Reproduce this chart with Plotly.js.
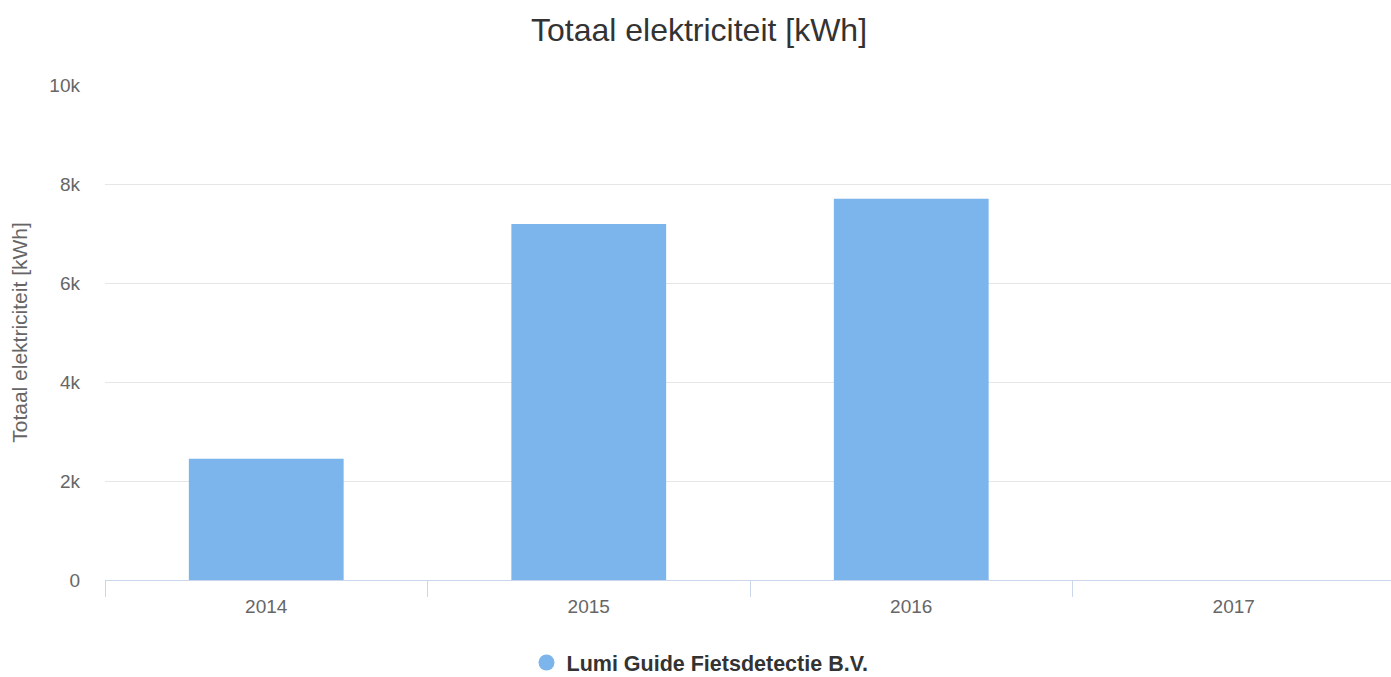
<!DOCTYPE html>
<html>
<head>
<meta charset="utf-8">
<script src="https://cdn.plot.ly/plotly-3.0.1.min.js"></script>
<style>html,body{margin:0;padding:0;background:#fff;overflow:hidden}#wrap{width:1391px;height:677px;overflow:hidden}#chart{width:1395px;height:677px}</style>
</head>
<body>
<div id="wrap"><div id="chart"></div></div>
<script>
const categories = ['2014', '2015', '2016', '2017'];
const seriesName = 'Lumi Guide Fietsdetectie B.V.';
const values = [2450, 7190, 7700, 0];
const yTickValues = [0, 2000, 4000, 6000, 8000, 10000];
const yTickLabels = ['0', '2k', '4k', '6k', '8k', '10k'];
const titleText = 'Totaal elektriciteit [kWh]';
const yTitleText = 'Totaal elektriciteit [kWh]';

const FONT = '"Liberation Sans", Arial, Helvetica, sans-serif';
const barColor = '#7cb5ec';

const traces = [
  {
    type: 'bar',
    x: categories,
    y: values,
    name: seriesName,
    marker: {color: barColor, line: {width: 0}},
    showlegend: false,
    hoverinfo: 'skip'
  },
  {
    type: 'scatter',
    mode: 'markers',
    x: [null],
    y: [null],
    name: seriesName,
    marker: {color: barColor, size: 22, symbol: 'circle'},
    showlegend: true,
    hoverinfo: 'skip'
  }
];

const layout = {
  width: 1395,
  height: 677,
  paper_bgcolor: '#ffffff',
  plot_bgcolor: '#ffffff',
  font: {family: FONT, color: '#666666'},
  margin: {l: 105, r: 0, t: 85, b: 97, autoexpand: false},
  title: {
    text: titleText,
    font: {family: FONT, size: 32, color: '#333333'},
    x: 699 / 1395, xref: 'container', xanchor: 'center',
    y: 1 - 30 / 677, yref: 'container', yanchor: 'middle'
  },
  bargap: 0.52,
  xaxis: {
    type: 'category',
    categoryorder: 'array',
    categoryarray: categories,
    range: [-0.5, 3.5],
    showgrid: false,
    showline: true,
    linecolor: '#ccd6eb',
    linewidth: 1,
    ticks: 'outside',
    tickson: 'boundaries',
    ticklen: 16,
    tickcolor: '#ccd6eb',
    tickwidth: 1,
    ticklabelstandoff: 9,
    tickfont: {family: FONT, size: 19, color: '#666666'},
    zeroline: false,
    fixedrange: true
  },
  yaxis: {
    range: [0, 10000],
    tickvals: yTickValues,
    ticktext: yTickLabels,
    showgrid: true,
    gridcolor: '#e6e6e6',
    gridwidth: 1,
    zeroline: false,
    showline: false,
    ticks: '',
    ticklabelstandoff: 24,
    tickfont: {family: FONT, size: 19, color: '#666666'},
    title: {
      text: yTitleText,
      font: {family: FONT, size: 21, color: '#666666'},
      standoff: 16
    },
    automargin: false,
    fixedrange: true
  },
  showlegend: true,
  legend: {
    orientation: 'h',
    x: (700 - 105) / 1290,
    xanchor: 'center',
    y: (580 - 683) / 495,
    yanchor: 'bottom',
    font: {family: FONT, size: 21.5, color: '#333333', weight: 'bold'},
    bgcolor: 'rgba(0,0,0,0)'
  },
  hovermode: false
};

Plotly.newPlot('chart', traces, layout, {displayModeBar: false, staticPlot: true});
</script>
</body>
</html>
